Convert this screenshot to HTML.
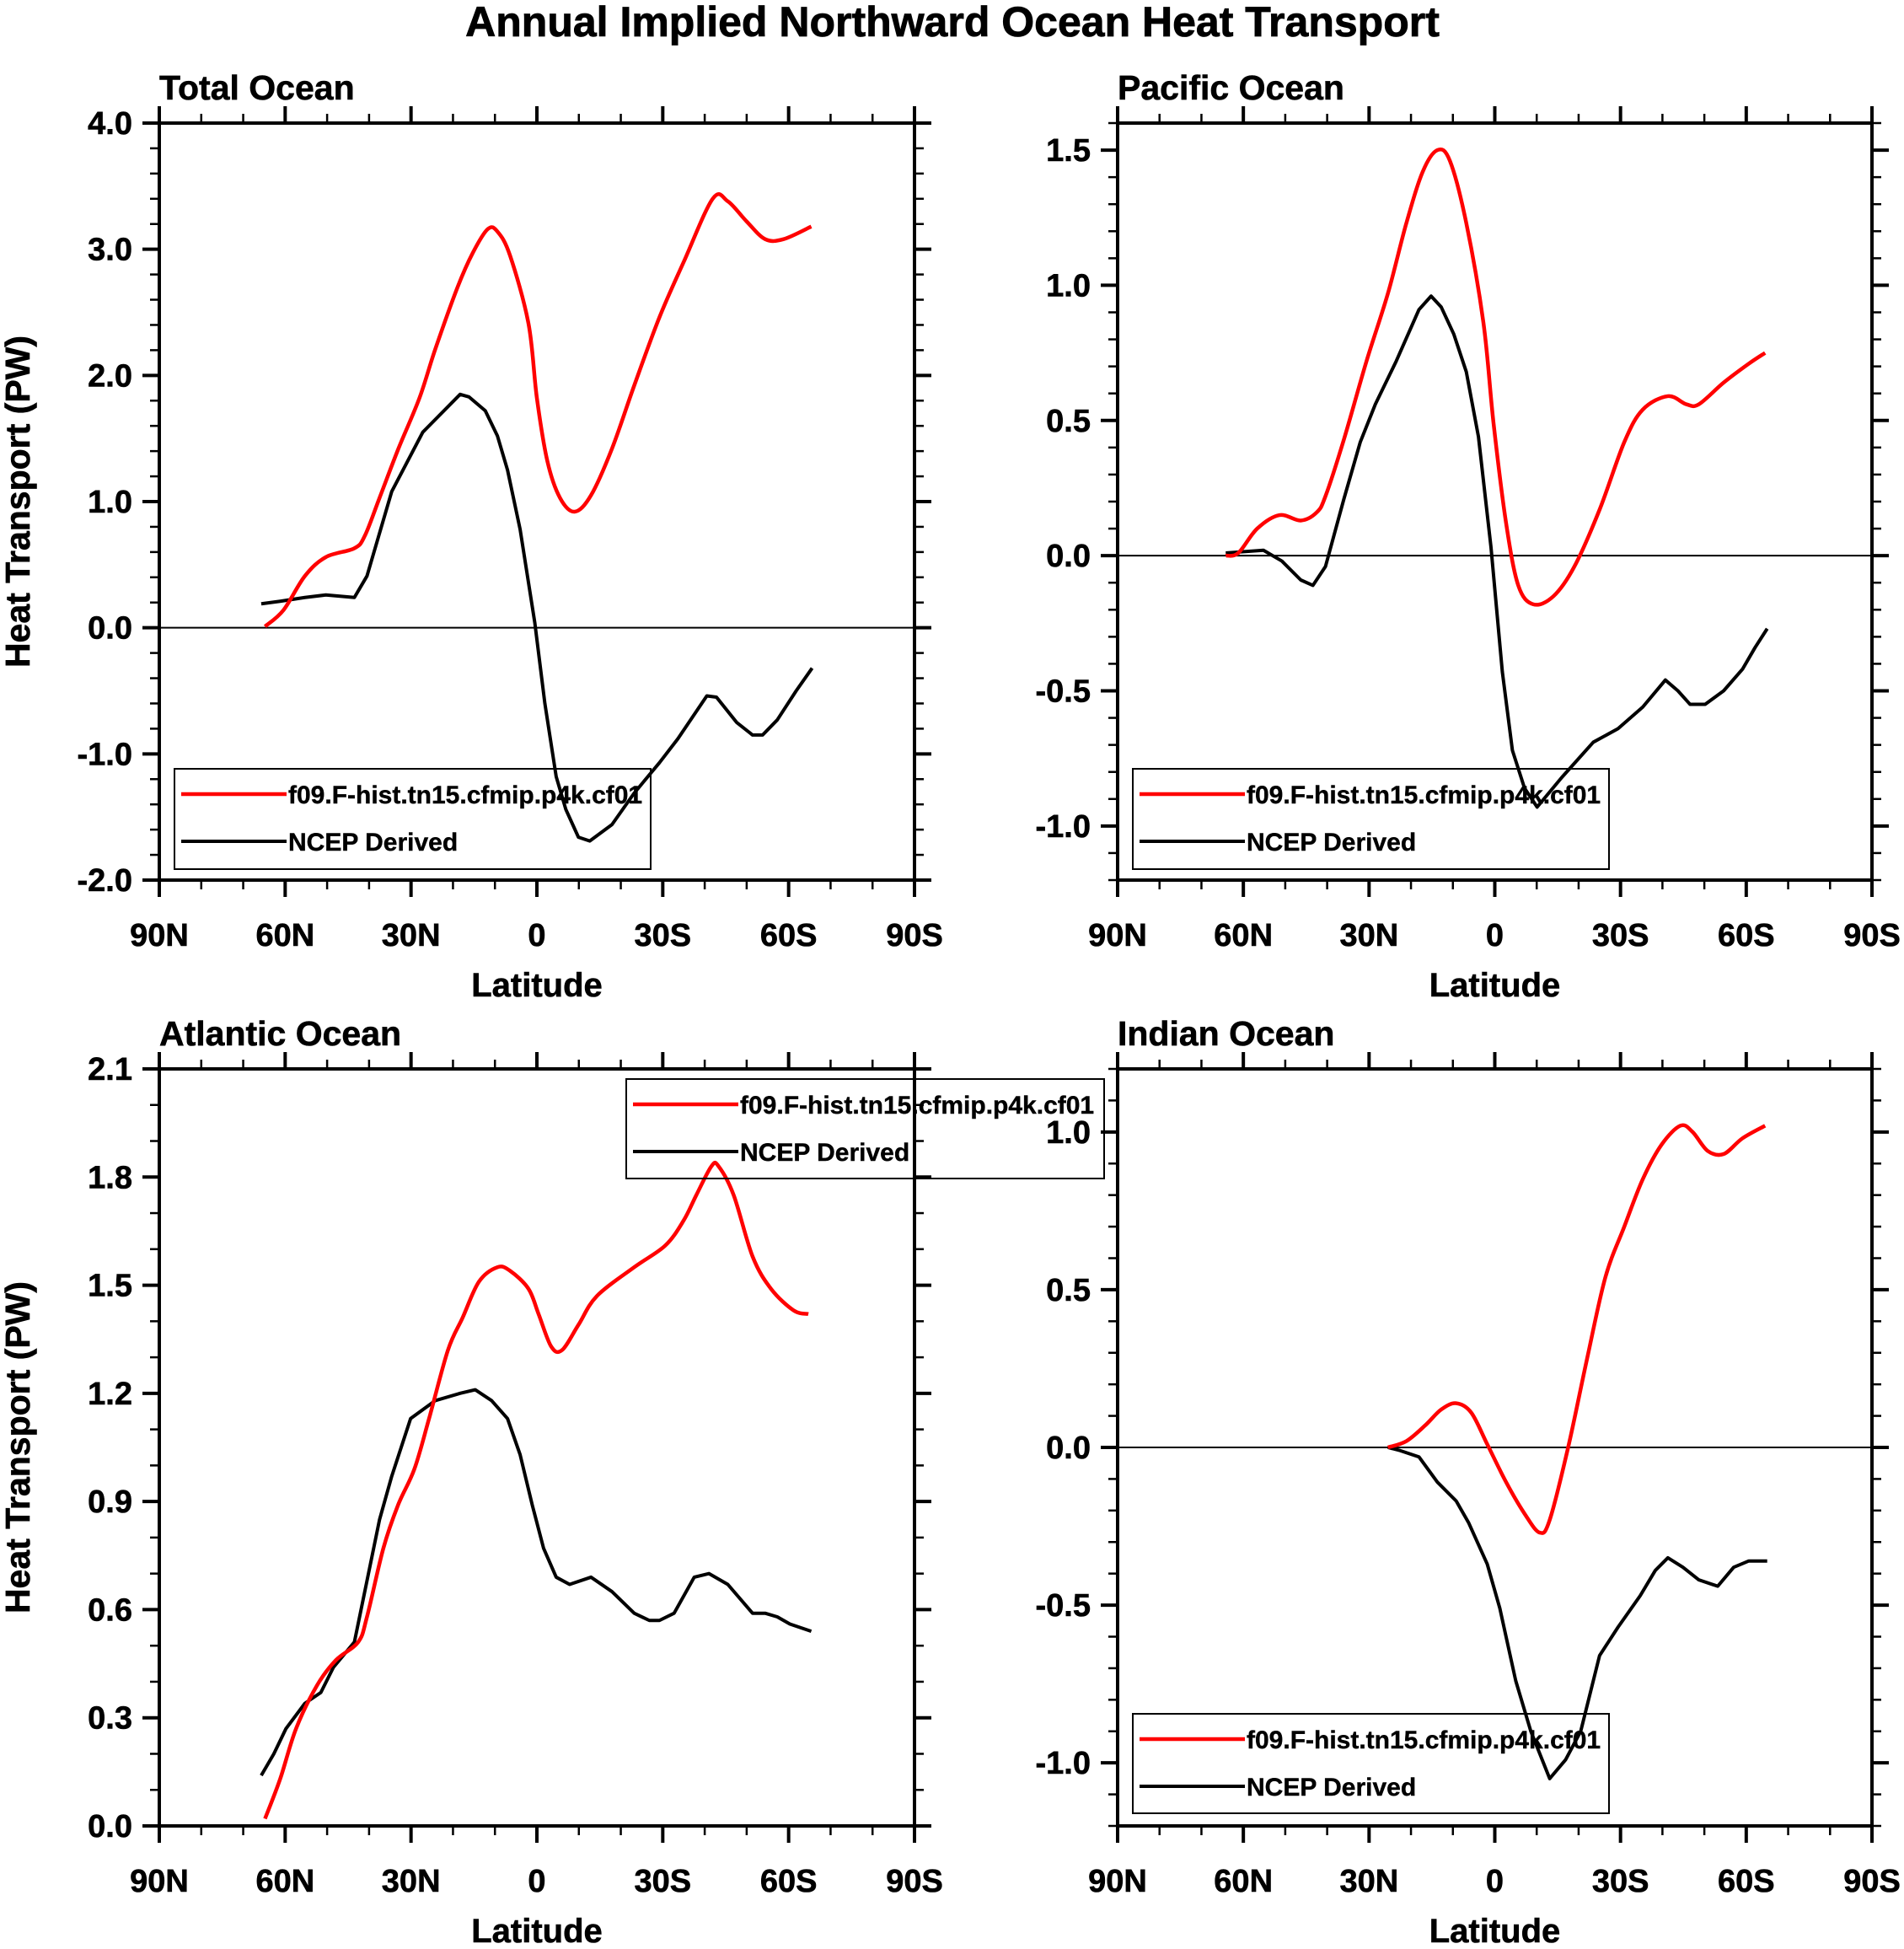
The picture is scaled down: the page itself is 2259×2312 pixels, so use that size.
<!DOCTYPE html>
<html><head><meta charset="utf-8"><style>
html,body{margin:0;padding:0;background:#fff;}
svg{display:block;font-family:"Liberation Sans",Arial,sans-serif;font-weight:bold;}
</style></head><body>
<svg id="chart" width="2259" height="2312" viewBox="0 0 2259 2312" xmlns="http://www.w3.org/2000/svg">
<text x="1130" y="43" text-anchor="middle" font-size="50" stroke="#000" stroke-width="0.8">Annual Implied Northward Ocean Heat Transport</text>
</svg>
<script>
// ---- data (latitude: positive = N, negative = S) ----
const xTickLabels = ["90N","60N","30N","0","30S","60S","90S"];
const xTickLats = [90,60,30,0,-30,-60,-90];
const seriesNames = ["f09.F-hist.tn15.cfmip.p4k.cf01","NCEP Derived"];

const totalRedLat = [64.8,60.4,55.3,50.3,43.5,41,37.5,33,28,24.2,18.9,15.3,11.7,9.4,6.4,2,0,-2.5,-5.5,-9,-12.9,-17.9,-23.2,-29.2,-35,-41.9,-45.5,-50,-54.4,-58.8,-65.4];
const totalRedVal = [0.01,0.14,0.41,0.56,0.63,0.73,1.03,1.42,1.82,2.21,2.7,2.97,3.16,3.14,2.95,2.41,1.82,1.32,1.03,0.92,1.05,1.42,1.92,2.46,2.9,3.4,3.38,3.22,3.08,3.08,3.18];
const totalBlkLat = [65.7,61.2,55.3,50.3,43.5,40.5,34.6,31.6,27.2,18.3,16.2,12.3,9.4,7,4,0.5,-1.9,-4.6,-6.9,-9.9,-12.6,-17.9,-23.2,-29.2,-33.6,-40.5,-42.8,-47.6,-51.4,-53.8,-57.3,-61.8,-65.6];
const totalBlkVal = [0.19,0.21,0.24,0.26,0.24,0.41,1.08,1.27,1.55,1.85,1.83,1.72,1.52,1.25,0.78,0.04,-0.6,-1.18,-1.44,-1.66,-1.69,-1.56,-1.31,-1.07,-0.88,-0.54,-0.55,-0.75,-0.85,-0.85,-0.73,-0.5,-0.32];

const pacRedLat = [64.2,61.2,56.7,51.4,46.3,42.5,40.4,36,30.6,25.5,21.1,17.2,13.7,10.7,6.8,2.7,0.3,-2.7,-5.6,-9.2,-14,-19,-25,-30.9,-35.3,-41.3,-45.7,-48.7,-54.6,-60.6,-64.5];
const pacRedVal = [0.0,0.01,0.10,0.15,0.13,0.16,0.22,0.43,0.72,0.97,1.23,1.42,1.50,1.46,1.23,0.86,0.49,0.12,-0.11,-0.18,-0.15,-0.04,0.17,0.42,0.54,0.59,0.56,0.56,0.64,0.71,0.75];
const pacBlkLat = [64.2,55.2,50.8,46.3,43.4,40.4,36,32.1,28.5,23.5,18.1,15.2,12.8,9.8,6.8,3.9,0.9,-1.8,-4.2,-7.1,-10.1,-16,-23.5,-29.4,-35.3,-40.7,-43.7,-46.6,-50.2,-54.6,-59.1,-62.1,-65];
const pacBlkVal = [0.01,0.02,-0.02,-0.09,-0.11,-0.04,0.21,0.42,0.56,0.72,0.91,0.96,0.92,0.82,0.68,0.44,0.03,-0.43,-0.72,-0.86,-0.93,-0.82,-0.69,-0.64,-0.56,-0.46,-0.5,-0.55,-0.55,-0.5,-0.42,-0.34,-0.27];

const atlRedLat = [64.8,61.2,57.4,52.4,47.9,42.6,40.5,36.6,33.1,29.2,25.7,21.2,17.7,13.8,9.4,6.4,2,-0.4,-3.4,-6,-9.9,-14.3,-23.2,-30.6,-35,-38,-41.6,-43.3,-46.9,-51.4,-55.8,-61.2,-64.7];
const atlRedVal = [0.02,0.13,0.27,0.39,0.46,0.51,0.58,0.77,0.89,0.99,1.13,1.32,1.41,1.51,1.55,1.54,1.49,1.42,1.33,1.32,1.39,1.47,1.55,1.61,1.68,1.75,1.83,1.83,1.75,1.58,1.49,1.43,1.42];
const atlBlkLat = [65.7,62.7,59.8,55.3,51.5,48.5,43.5,40.5,37.5,34.6,30.1,24.2,18.3,14.7,10.8,7,4,1.1,-1.6,-4.6,-7.8,-12.9,-17.9,-23.2,-26.8,-29.2,-32.7,-37.5,-41,-45.5,-51.4,-54.4,-57.3,-60.3,-65.4];
const atlBlkVal = [0.14,0.2,0.27,0.34,0.37,0.44,0.51,0.68,0.85,0.97,1.13,1.18,1.2,1.21,1.18,1.13,1.03,0.89,0.77,0.69,0.67,0.69,0.65,0.59,0.57,0.57,0.59,0.69,0.7,0.67,0.59,0.59,0.58,0.56,0.54];

const indRedLat = [25.5,21.1,16.6,12.8,9.2,5.6,1.8,-2.7,-7.1,-10.7,-13.1,-17.5,-22,-26.4,-30.9,-35.3,-39.8,-44.3,-47.2,-50.8,-54.6,-59.1,-64.5];
const indRedVal = [0,0.02,0.07,0.12,0.14,0.11,0.01,-0.11,-0.21,-0.27,-0.23,0,0.28,0.54,0.7,0.85,0.96,1.02,1.0,0.94,0.93,0.98,1.02];
const indBlkLat = [25.5,22.6,18.1,13.7,9.2,6.2,1.8,-1.2,-5,-8.6,-13.1,-16.9,-20.5,-25,-29.4,-34.7,-38.3,-41.3,-44.9,-48.7,-53.2,-57,-60.6,-65];
const indBlkVal = [0,-0.01,-0.03,-0.11,-0.17,-0.24,-0.37,-0.51,-0.74,-0.9,-1.05,-0.99,-0.9,-0.66,-0.57,-0.47,-0.39,-0.35,-0.38,-0.42,-0.44,-0.38,-0.36,-0.36];

const totalYTicks = ["-2.0","-1.0","0.0","1.0","2.0","3.0","4.0"];
const pacYTicks = ["-1.0","-0.5","0.0","0.5","1.0","1.5"];
const atlYTicks = ["0.0","0.3","0.6","0.9","1.2","1.5","1.8","2.1"];
const indYTicks = ["-1.0","-0.5","0.0","0.5","1.0"];

const NS = "http://www.w3.org/2000/svg";
const svg = document.getElementById('chart');
function mk(tag, attrs, parent){ const e=document.createElementNS(NS,tag); for(const k in attrs) e.setAttribute(k,attrs[k]); (parent||svg).appendChild(e); return e; }
function smoothPath(pts){
  let d = 'M'+pts[0][0]+','+pts[0][1];
  for(let i=0;i<pts.length-1;i++){
    const p0=pts[Math.max(i-1,0)], p1=pts[i], p2=pts[i+1], p3=pts[Math.min(i+2,pts.length-1)];
    const c1x=p1[0]+(p2[0]-p0[0])/6, c1y=p1[1]+(p2[1]-p0[1])/6;
    const c2x=p2[0]-(p3[0]-p1[0])/6, c2y=p2[1]-(p3[1]-p1[1])/6;
    d += ` C${c1x},${c1y} ${c2x},${c2y} ${p2[0]},${p2[1]}`;
  }
  return d;
}

const panels = [
 {key:'total', title:'Total Ocean', x0:189,x1:1085,y0:146,y1:1044, ymin:-2,ymax:4, minor:0.2, ticks:totalYTicks, ylabel:true,
  red:[totalRedLat,totalRedVal], blk:[totalBlkLat,totalBlkVal], zero:true, leg:[207,912,772,1031]},
 {key:'pacific', title:'Pacific Ocean', x0:1326,x1:2221,y0:146,y1:1044, ymin:-1.2,ymax:1.6, minor:0.1, ticks:pacYTicks, ylabel:false,
  red:[pacRedLat,pacRedVal], blk:[pacBlkLat,pacBlkVal], zero:true, leg:[1344,912,1909,1031]},
 {key:'atlantic', title:'Atlantic Ocean', x0:189,x1:1085,y0:1268,y1:2166, ymin:0,ymax:2.1, minor:0.1, ticks:atlYTicks, ylabel:true,
  red:[atlRedLat,atlRedVal], blk:[atlBlkLat,atlBlkVal], zero:false, leg:[743,1280,1310,1398]},
 {key:'indian', title:'Indian Ocean', x0:1326,x1:2221,y0:1268,y1:2166, ymin:-1.2,ymax:1.2, minor:0.1, ticks:indYTicks, ylabel:false,
  red:[indRedLat,indRedVal], blk:[indBlkLat,indBlkVal], zero:true, leg:[1344,2033,1909,2151]}
];

panels.forEach(p=>{
  const g = mk('g',{});
  
  
  const xs = lat => p.x0 + (90-lat)/180*(p.x1-p.x0);
  const ys = v => p.y1 - (v-p.ymin)/(p.ymax-p.ymin)*(p.y1-p.y0);
  const t = mk('text',{x:p.x0,y:p.y0-28,'font-size':41,stroke:'#000','stroke-width':0.6},g); t.textContent=p.title;
  
  
  for(let lat=90; lat>=-90; lat-=10){
    const x=xs(lat), major = (lat%30===0);
    const len = major?20:11;
    mk('line',{x1:x,y1:p.y0,x2:x,y2:p.y0-len,stroke:'#000','stroke-width':major?4:2.5},g);
    mk('line',{x1:x,y1:p.y1,x2:x,y2:p.y1+len,stroke:'#000','stroke-width':major?4:2.5},g);
  }
  xTickLabels.forEach((lab,i)=>{
    const tx = mk('text',{x:xs(xTickLats[i]),y:p.y1+78,'text-anchor':'middle','font-size':38,stroke:'#000','stroke-width':0.6},g); tx.textContent=lab;
    
    
  });
  const xl = mk('text',{x:(p.x0+p.x1)/2,y:p.y1+138,'text-anchor':'middle','font-size':40,stroke:'#000','stroke-width':0.6},g); xl.textContent='Latitude';
  
  
  const nMinor = Math.round((p.ymax-p.ymin)/p.minor);
  for(let i=0;i<=nMinor;i++){
    const v = p.ymin + i*p.minor, y=ys(v);
    const isMajor = p.ticks.some(s=>Math.abs(parseFloat(s)-v)<1e-6);
    const len = isMajor?20:11;
    mk('line',{x1:p.x0,y1:y,x2:p.x0-len,y2:y,stroke:'#000','stroke-width':isMajor?4:2.5},g);
    mk('line',{x1:p.x1,y1:y,x2:p.x1+len,y2:y,stroke:'#000','stroke-width':isMajor?4:2.5},g);
  }
  p.ticks.forEach(s=>{
    const ty = mk('text',{x:p.x0-32,y:ys(parseFloat(s))+13,'text-anchor':'end','font-size':38,stroke:'#000','stroke-width':0.6},g); ty.textContent=s;
    
    
  });
  if(p.ylabel){
    const cy=(p.y0+p.y1)/2;
    const yl = mk('text',{x:35,y:cy,'text-anchor':'middle','font-size':41,stroke:'#000','stroke-width':0.6,transform:`rotate(-90 35 ${cy})`},g); yl.textContent='Heat Transport (PW)';
    
    
  }
  if(p.zero){
    const z = mk('line',{x1:p.x0,y1:ys(0),x2:p.x1,y2:ys(0),stroke:'#000','stroke-width':2},g);
    
    
  }
  const blk = mk('polyline',{points:p.blk[0].map((l,i)=>xs(l)+','+ys(p.blk[1][i])).join(' '),fill:'none',stroke:'#000','stroke-width':4,'stroke-linejoin':'round'},g);
  
  
  const rpts = p.red[0].map((l,i)=>[xs(l), ys(p.red[1][i])]);
  const red = mk('path',{d:smoothPath(rpts),fill:'none',stroke:'#f00','stroke-width':4.5,'stroke-linejoin':'round'},g);
  
  
  const fr = mk('rect',{x:p.x0,y:p.y0,width:p.x1-p.x0,height:p.y1-p.y0,fill:'none',stroke:'#000','stroke-width':4},g);
  
  
  const [lx0,ly0,lx1,ly1]=p.leg;
  const lg = mk('g',{},g);
  
  
  mk('rect',{x:lx0,y:ly0,width:lx1-lx0,height:ly1-ly0,fill:'none',stroke:'#000','stroke-width':2},lg);
  const rows=[ly0+30, ly0+86], cols=['#f00','#000'];
  seriesNames.forEach((n,i)=>{
    const e = mk('g',{},lg);
    
    
    mk('line',{x1:lx0+8,y1:rows[i],x2:lx0+133,y2:rows[i],stroke:cols[i],'stroke-width':i?4:4.5},e);
    const tt = mk('text',{x:lx0+135,y:rows[i]+11,'font-size':30,stroke:'#000','stroke-width':0.4},e); tt.textContent=n;
  });
});
</script>
</body></html>
